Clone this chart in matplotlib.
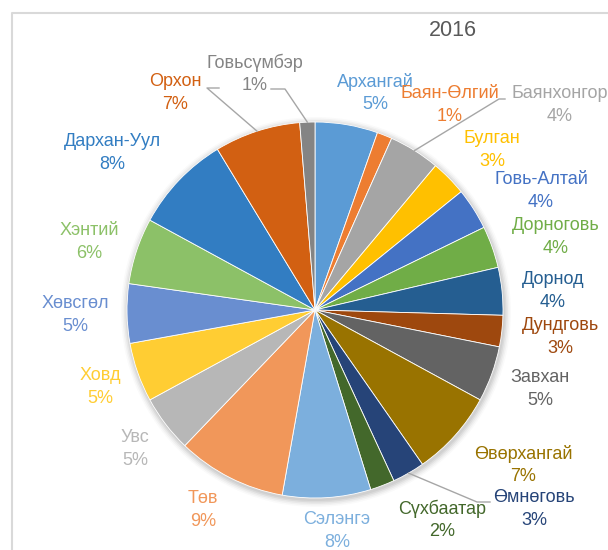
import matplotlib.pyplot as plt
from matplotlib.patches import Circle
import numpy as np

# data: share by aimag, 2016 (clockwise from 12 o'clock)
aimags = ['Архангай', 'Баян-Өлгий', 'Баянхонгор', 'Булган', 'Говь-Алтай',
          'Дорноговь', 'Дорнод', 'Дундговь', 'Завхан', 'Өвөрхангай',
          'Өмнөговь', 'Сүхбаатар', 'Сэлэнгэ', 'Төв', 'Увс', 'Ховд',
          'Хөвсгөл', 'Хэнтий', 'Дархан-Уул', 'Орхон', 'Говьсүмбэр']
shares = [5.4, 1.3, 4.4, 3.1, 3.6, 3.6, 4.1, 2.7, 4.8, 7.4, 2.8, 2.1,
          7.6, 9.4, 4.9, 5.1, 5.1, 5.7, 8.4, 7.4, 1.3]
title = '2016'

colors = ['#5B9BD5', '#ED7D31', '#A5A5A5', '#FFC000', '#4472C4', '#70AD47',
          '#255E91', '#9E480E', '#636363', '#997300', '#264478', '#43682B',
          '#7CAFDD', '#F1975A', '#B7B7B7', '#FFCD33', '#698ED0', '#8CC168',
          '#327DC2', '#D26012', '#848484']

# layout in pixels (top-down), label block centres
W, H = 608, 550
cx, cy, R = 315, 310, 188
label_pos = [(375, 93), (450, 105), (560, 105), (492, 150), (541, 191),
             (556, 237), (553, 291), (560, 337), (540, 389), (523, 465),
             (534, 509), (442, 520), (337, 531), (203, 510), (135, 449),
             (100, 387), (75, 315), (89, 242), (112, 153), (175, 93),
             (255, 74)]
# leader lines: index -> (end next to text, elbow)
leaders = {2: ((505, 99), (499, 99)),
           10: ((490, 502), (477, 502)),
           19: ((219, 88), (207, 88)),
           20: ((271, 89), (285, 89))}

plt.rcParams['font.family'] = ['Liberation Sans', 'DejaVu Sans']

fig = plt.figure(figsize=(W / 100, H / 100), dpi=100)
ax = fig.add_axes([0, 0, 1, 1])

# soft shadow behind the pie
for i, a in enumerate([0.05, 0.05, 0.04, 0.03, 0.02]):
    ax.add_patch(Circle((cx + 1, H - cy - 2), R + 1 + i * 1.5, color='black',
                        alpha=a, lw=0, zorder=0))

wedges, _ = ax.pie(shares, colors=colors, startangle=90, counterclock=False,
                   center=(cx, H - cy), radius=R,
                   wedgeprops=dict(edgecolor='white', linewidth=0.6))

total = sum(shares)
for i, (name, v) in enumerate(zip(aimags, shares)):
    x, y = label_pos[i]
    ax.text(x, H - y, f'{name}\n{round(v / total * 100)}%', color=colors[i],
            fontsize=13, ha='center', va='center', multialignment='center',
            linespacing=1.4)

for i, (end, elbow) in leaders.items():
    w = wedges[i]
    mid = np.deg2rad((w.theta1 + w.theta2) / 2)
    rx = cx + R * np.cos(mid)
    ry = (H - cy) + R * np.sin(mid)
    ax.plot([end[0], elbow[0], rx], [H - end[1], H - elbow[1], ry],
            color='#A6A6A6', lw=1, zorder=3)

ax.text(453, H - 30, title, fontsize=15.5, color='#595959',
        ha='center', va='center')

# chart frame (cropped on the right and bottom)
ax.plot([11.5, 11.5, W + 5], [-5, H - 12.5, H - 12.5], color='#D9D9D9',
        lw=1.5, clip_on=False)

ax.set_xlim(0, W)
ax.set_ylim(0, H)
ax.set_aspect('equal')
ax.axis('off')

plt.savefig('out.png', dpi=100)
plt.close()
